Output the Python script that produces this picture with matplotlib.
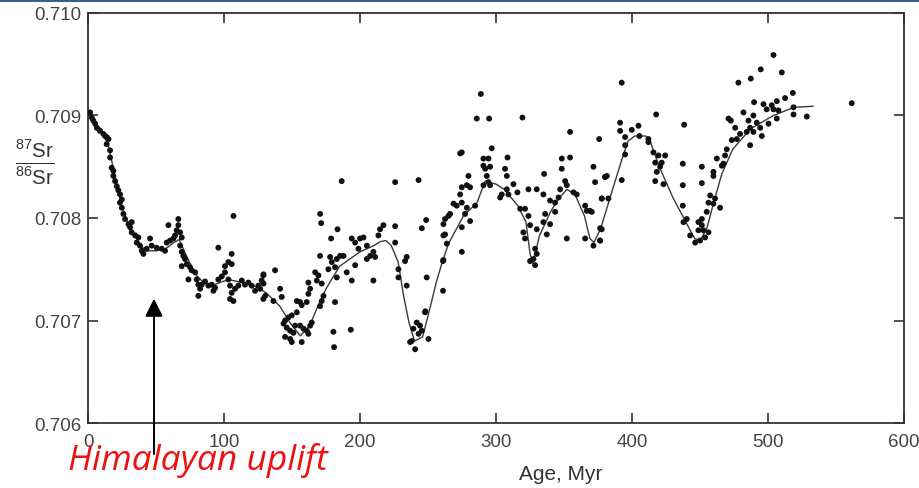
import matplotlib
matplotlib.use('Agg')
import matplotlib.pyplot as plt
from matplotlib.patches import Rectangle


# seawater 87Sr/86Sr measurements (age in Myr, ratio)
age_pts = [
    1.5, 2.7, 3.9, 5.2, 6.4, 8.8, 11.3, 12.5, 13.7, 15.0, 13.7, 16.2, 16.2, 17.4, 18.6, 18.6,
    19.9, 21.1, 22.3, 23.5, 24.8, 23.5, 24.8, 26.0, 27.2, 29.7, 32.1, 30.9, 32.1, 34.6, 37.0,
    35.8, 38.2, 39.5, 40.7, 43.1, 45.6, 46.8, 50.5, 54.2, 56.6, 59.1, 57.8, 60.3, 62.8, 64.0,
    65.2, 66.4, 66.4, 67.7, 68.9, 67.7, 68.9, 70.1, 71.3, 68.9, 72.6, 75.0, 76.2, 73.8, 78.7,
    79.9, 81.1, 82.4, 81.1, 83.6, 86.0, 88.5, 90.9, 92.2, 93.4, 95.8, 95.8, 98.3, 100.7, 100.7,
    103.2, 105.6, 105.6, 106.9, 103.2, 104.4, 105.6, 104.4, 106.9, 108.1, 110.5, 113.0, 115.4,
    117.9, 120.3, 122.8, 125.2, 127.7, 128.9, 128.9,
    186.5, 225.8, 243.0, 170.6, 171.4, 183.4, 178.7, 248.6, 245.4, 225.8, 225.8, 217.2, 214.7,
    213.5, 234.3, 233.1, 228.2, 228.2, 234.3, 249.0, 193.9, 196.4, 200.0, 202.5, 205.0, 198.8,
    207.4, 209.8, 211.1, 205.0, 209.8, 193.9, 196.4, 190.2, 185.3, 187.8, 182.9, 178.0, 179.2,
    181.6, 182.9, 176.7, 170.6, 169.4, 167.0, 168.2, 171.8, 173.1, 171.8, 170.6, 181.6, 162.0,
    163.3, 162.0, 160.8, 155.9, 153.5, 157.1, 153.5, 149.8, 147.3, 144.9, 143.7, 146.1, 148.6,
    151.0, 152.2, 155.9, 158.4, 160.8, 163.3, 164.5, 162.0, 148.6, 144.9, 149.8, 157.1, 180.4,
    193.2, 180.9, 141.2, 142.4, 136.3, 130.2, 129.0, 129.0, 137.5, 126.5, 238.0, 239.2, 241.7,
    244.1, 243.0, 245.4, 247.8, 250.3, 240.5, 236.8, 261.0, 261.0, 248.0,
    288.8, 285.8, 294.9, 319.4, 354.4, 375.8, 274.8, 273.6, 296.8, 290.7, 294.4, 308.4, 348.3,
    354.4, 290.7, 292.0, 295.6, 293.2, 294.4, 290.7, 295.6, 306.6, 307.9, 312.8, 307.9, 304.2,
    303.0, 309.1, 315.7, 323.8, 329.9, 335.3, 334.8, 348.3, 350.8, 352.0, 356.9, 359.3, 347.1,
    345.9, 343.4, 339.7, 343.4, 339.7, 336.1, 337.3, 334.8, 329.9, 325.0, 323.8, 321.3, 317.7,
    320.1, 321.3, 325.0, 327.5, 328.7, 329.9, 328.7, 352.0, 279.7, 278.5, 280.9, 274.8, 273.6,
    278.5, 277.2, 280.9, 284.6, 274.8, 271.1, 268.7, 266.2, 265.0, 262.5, 261.3, 262.5, 261.3,
    263.8, 261.3, 274.8, 274.8, 365.5, 366.7, 369.1, 370.4, 365.5, 371.6, 376.5, 377.7, 377.7,
    371.6, 372.8, 380.2,
    392.4, 504.0, 510.1, 494.6, 487.3, 478.2, 417.7, 438.3, 518.2, 512.5, 528.5, 518.7, 518.7,
    506.4, 502.7, 499.0, 496.6, 489.7, 489.2, 491.7, 494.2, 495.4, 500.3, 506.4, 507.6, 504.0,
    485.6, 486.8, 484.3, 481.9, 489.2, 486.8, 479.4, 477.0, 473.3, 469.6, 470.9, 472.6, 475.8,
    468.4, 467.2, 462.3, 466.0, 459.8, 459.8, 457.4, 456.2, 459.8, 461.0, 464.7, 454.9, 451.3,
    448.8, 451.3, 452.5, 456.2, 448.8, 446.4, 450.0, 453.7, 442.7, 440.2, 437.8, 437.3, 437.3,
    437.3, 451.3, 451.3, 423.1, 417.0, 418.2, 420.6, 419.4, 424.3, 421.8, 417.0, 415.7, 412.0,
    412.0, 404.7, 405.4, 399.8, 394.9, 391.2, 391.2, 394.9, 394.9, 392.4, 382.6, 380.2, 381.4,
    377.7, 376.5, 376.5, 561.5,
]
sr_pts = [
    0.70903, 0.70898, 0.70895, 0.70892, 0.70888, 0.70885, 0.70882, 0.70880, 0.70879, 0.70877,
    0.70872, 0.70866, 0.70859, 0.70849, 0.70846, 0.70841, 0.70836, 0.70831, 0.70827, 0.70823,
    0.70818, 0.70815, 0.70810, 0.70804, 0.70799, 0.70794, 0.70796, 0.70791, 0.70786, 0.70783,
    0.70781, 0.70776, 0.70773, 0.70768, 0.70765, 0.70770, 0.70780, 0.70773, 0.70771, 0.70770,
    0.70768, 0.70793, 0.70776, 0.70778, 0.70780, 0.70783, 0.70788, 0.70793, 0.70799, 0.70786,
    0.70781, 0.70773, 0.70767, 0.70763, 0.70760, 0.70753, 0.70755, 0.70752, 0.70749, 0.70740,
    0.70747, 0.70740, 0.70735, 0.70731, 0.70724, 0.70735, 0.70738, 0.70734, 0.70735, 0.70729,
    0.70732, 0.70740, 0.70771, 0.70743, 0.70747, 0.70753, 0.70757, 0.70765, 0.70755, 0.70802,
    0.70740, 0.70734, 0.70727, 0.70721, 0.70719, 0.70731, 0.70734, 0.70739, 0.70735, 0.70737,
    0.70734, 0.70729, 0.70734, 0.70739, 0.70721, 0.70744,
    0.70836, 0.70835, 0.70837, 0.70804, 0.70795, 0.70789, 0.70780, 0.70798, 0.70790, 0.70792,
    0.70776, 0.70793, 0.70789, 0.70783, 0.70762, 0.70758, 0.70750, 0.70742, 0.70734, 0.70742,
    0.70780, 0.70776, 0.70780, 0.70781, 0.70773, 0.70770, 0.70763, 0.70767, 0.70762, 0.70760,
    0.70739, 0.70739, 0.70754, 0.70747, 0.70763, 0.70763, 0.70760, 0.70762, 0.70757, 0.70752,
    0.70742, 0.70750, 0.70763, 0.70744, 0.70747, 0.70739, 0.70736, 0.70724, 0.70719, 0.70714,
    0.70718, 0.70737, 0.70731, 0.70726, 0.70718, 0.70718, 0.70719, 0.70715, 0.70708, 0.70705,
    0.70703, 0.70700, 0.70697, 0.70693, 0.70690, 0.70688, 0.70695, 0.70695, 0.70692, 0.70690,
    0.70695, 0.70698, 0.70687, 0.70682, 0.70684, 0.70679, 0.70679, 0.70689, 0.70691, 0.70674,
    0.70731, 0.70723, 0.70719, 0.70724, 0.70736, 0.70745, 0.70749, 0.70731, 0.70680, 0.70692,
    0.70698, 0.70695, 0.70687, 0.70690, 0.70708, 0.70682, 0.70672, 0.70679, 0.70729, 0.70758,
    0.70709,
    0.70921, 0.70897, 0.70897, 0.70898, 0.70884, 0.70877, 0.70864, 0.70863, 0.70868, 0.70858,
    0.70858, 0.70859, 0.70858, 0.70859, 0.70851, 0.70848, 0.70850, 0.70841, 0.70835, 0.70832,
    0.70832, 0.70848, 0.70841, 0.70833, 0.70828, 0.70823, 0.70820, 0.70823, 0.70825, 0.70828,
    0.70828, 0.70843, 0.70823, 0.70848, 0.70836, 0.70832, 0.70825, 0.70823, 0.70828, 0.70820,
    0.70815, 0.70817, 0.70806, 0.70794, 0.70804, 0.70784, 0.70796, 0.70789, 0.70793, 0.70802,
    0.70809, 0.70809, 0.70786, 0.70780, 0.70758, 0.70760, 0.70770, 0.70765, 0.70754, 0.70780,
    0.70841, 0.70832, 0.70830, 0.70830, 0.70823, 0.70810, 0.70804, 0.70797, 0.70812, 0.70815,
    0.70812, 0.70814, 0.70804, 0.70802, 0.70799, 0.70794, 0.70784, 0.70783, 0.70775, 0.70759,
    0.70791, 0.70767, 0.70812, 0.70807, 0.70807, 0.70806, 0.70780, 0.70773, 0.70778, 0.70789,
    0.70819, 0.70850, 0.70835, 0.70840,
    0.70932, 0.70959, 0.70942, 0.70945, 0.70936, 0.70932, 0.70901, 0.70891, 0.70922, 0.70917,
    0.70899, 0.70908, 0.70901, 0.70914, 0.70910, 0.70906, 0.70911, 0.70913, 0.70900, 0.70893,
    0.70888, 0.70880, 0.70892, 0.70897, 0.70905, 0.70906, 0.70895, 0.70888, 0.70884, 0.70903,
    0.70884, 0.70871, 0.70882, 0.70877, 0.70876, 0.70867, 0.70897, 0.70895, 0.70888, 0.70861,
    0.70853, 0.70858, 0.70851, 0.70845, 0.70841, 0.70822, 0.70815, 0.70814, 0.70819, 0.70810,
    0.70806, 0.70799, 0.70796, 0.70793, 0.70788, 0.70786, 0.70788, 0.70776, 0.70778, 0.70781,
    0.70783, 0.70799, 0.70796, 0.70812, 0.70832, 0.70853, 0.70850, 0.70834, 0.70833, 0.70836,
    0.70845, 0.70850, 0.70861, 0.70861, 0.70854, 0.70854, 0.70864, 0.70877, 0.70874, 0.70890,
    0.70880, 0.70886, 0.70879, 0.70893, 0.70885, 0.70871, 0.70862, 0.70837, 0.70819, 0.70840,
    0.70841, 0.70819, 0.70790, 0.70778, 0.70912,
]

# smoothed trend through the measurements
age_fit = [0, 5, 10, 15, 20, 25, 30, 35, 42, 50, 57, 63, 67, 72, 79, 85, 91, 97, 103, 110,
           120, 126, 131, 141, 149, 156, 163, 168, 175, 185, 200, 210, 215, 219, 223, 228, 232,
           236, 240, 246, 251, 256, 260, 265, 276, 286, 292, 300, 306, 316, 322, 325, 327, 332,
           340, 345, 352, 358, 365, 369, 372, 377, 385, 392, 397, 402, 410, 413, 420, 430, 440,
           446, 450, 455, 460, 466, 474, 487, 504, 519, 533]
sr_fit = [0.70900, 0.70893, 0.70886, 0.70870, 0.70840, 0.70810, 0.70792, 0.70781, 0.70768,
          0.70768, 0.70770, 0.70776, 0.70779, 0.70764, 0.70745, 0.70737, 0.70734, 0.70737,
          0.70740, 0.70738, 0.70735, 0.70731, 0.70727, 0.70714, 0.70697, 0.70685, 0.70695,
          0.70711, 0.70731, 0.70753, 0.70767, 0.70773, 0.70777, 0.70778, 0.70773, 0.70757,
          0.70724, 0.70698, 0.70680, 0.70684, 0.70710, 0.70737, 0.70755, 0.70775, 0.70802,
          0.70815, 0.70836, 0.70833, 0.70828, 0.70812, 0.70796, 0.70765, 0.70756, 0.70783,
          0.70806, 0.70817, 0.70828, 0.70823, 0.70802, 0.70780, 0.70776, 0.70790, 0.70825,
          0.70855, 0.70875, 0.70880, 0.70880, 0.70876, 0.70850, 0.70820, 0.70795, 0.70780,
          0.70778, 0.70790, 0.70815, 0.70843, 0.70867, 0.70887, 0.70900, 0.70908, 0.70909]

x_ticks = [0, 100, 200, 300, 400, 500, 600]
y_ticks = [0.706, 0.707, 0.708, 0.709, 0.710]

plt.rcParams['font.family'] = ['Liberation Sans', 'DejaVu Sans']
plt.rcParams['mathtext.fontset'] = 'custom'
plt.rcParams['mathtext.rm'] = 'Liberation Sans'

fig = plt.figure(figsize=(9.2, 4.89), dpi=100)
fig.patch.set_facecolor('white')
ax = fig.add_axes([0.0957, 0.1329, 0.887, 0.8385])

ax.plot(age_fit, sr_fit, color='#3a3a3a', lw=1.0, zorder=2)
ax.scatter(age_pts, sr_pts, s=18, color='#111111', edgecolors='none', zorder=3)

ax.set_xlim(0, 600)
ax.set_ylim(0.706, 0.710)
ax.set_xticks(x_ticks)
ax.set_yticks(y_ticks)
ax.set_xticklabels([str(t) for t in x_ticks])
ax.set_yticklabels(['%.3f' % t for t in y_ticks])
ax.tick_params(direction='in', length=7, width=1.2, color='#333333',
               labelsize=13.5, labelcolor='#444444', top=True, right=True)
ax.tick_params(axis='x', pad=7)
ax.tick_params(axis='y', pad=5)
for sp in ax.spines.values():
    sp.set_color('#333333')
    sp.set_linewidth(1.3)

# y-axis label as a ratio
fig.text(0.038, 0.667, r'$\frac{^{87}\mathrm{Sr}}{^{86}\mathrm{Sr}}$', fontsize=21,
         color='#333333', ha='center', va='center')
fig.text(0.609, 0.018, 'Age, Myr', fontsize=15, color='#333333', ha='center',
         va='baseline')

# annotation
ax.annotate('', xy=(48.5, 0.70724), xytext=(48.5, 0.70567),
            arrowprops=dict(arrowstyle='-|>,head_length=0.6,head_width=0.3',
                            color='black', lw=1.4, mutation_scale=18),
            annotation_clip=False)
fig.text(0.074, 0.038, 'Himalayan uplift', fontsize=25.5, color='#ee1111',
         fontstyle='italic', family=['Open Sans', 'DejaVu Sans'], va='baseline')

# thin banner along the top edge
fig.add_artist(Rectangle((0, 1 - 3 / 489), 1, 3 / 489, transform=fig.transFigure,
                         color='#3a5a9a', lw=0))

fig.savefig('out.png', dpi=100)
